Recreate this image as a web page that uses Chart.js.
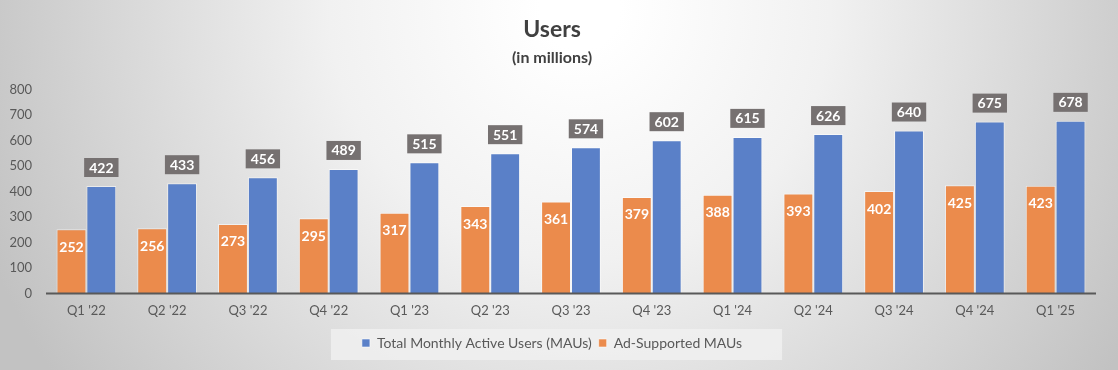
<!DOCTYPE html>
<html>
<head>
<meta charset="utf-8">
<script src="https://cdn.jsdelivr.net/npm/chart.js@4"></script>
<style>
  html, body { margin: 0; padding: 0; background: #fff; }
  #wrap { width: 1118px; height: 370px; position: relative; }
</style>
</head>
<body>
<div id="wrap"><canvas id="chart"></canvas></div>
<script>
const quarters = ["Q1 '22", "Q2 '22", "Q3 '22", "Q4 '22", "Q1 '23", "Q2 '23", "Q3 '23", "Q4 '23", "Q1 '24", "Q2 '24", "Q3 '24", "Q4 '24", "Q1 '25"]
const totalMAUs = [422, 433, 456, 489, 515, 551, 574, 602, 615, 626, 640, 675, 678]
const adSupportedMAUs = [252, 256, 273, 295, 317, 343, 361, 379, 388, 393, 402, 425, 423]
const yTicks = [0, 100, 200, 300, 400, 500, 600, 700, 800]

const FONT = "Lato, 'Open Sans', sans-serif"

// gray-to-white backdrop, like the spreadsheet chart area
const backdrop = {
  id: 'backdrop',
  beforeDraw(chart) {
    const { ctx, width, height } = chart
    ctx.save()
    const g = ctx.createRadialGradient(580, 10, 40, 580, 10, 640)
    g.addColorStop(0, '#ffffff')
    g.addColorStop(0.35, '#f1f1f1')
    g.addColorStop(1, '#c2c2c2')
    ctx.fillStyle = g
    ctx.fillRect(0, 0, width, height)

    // legend panel
    const lg = chart.legend
    if (lg && lg.legendHitBoxes && lg.legendHitBoxes.length) {
      const boxes = lg.legendHitBoxes
      const left = Math.min(...boxes.map(b => b.left)) - 31
      const right = Math.max(...boxes.map(b => b.left + b.width)) + 40
      ctx.fillStyle = 'rgba(240,240,240,0.85)'
      ctx.fillRect(left, lg.top, right - left, lg.height)
    }
    ctx.restore()
  }
}

// value labels: inside orange bars, boxed above blue bars; plus the base line
const valueLabels = {
  id: 'valueLabels',
  afterDatasetsDraw(chart) {
    const { ctx, chartArea } = chart
    ctx.save()
    ctx.strokeStyle = '#595959'
    ctx.lineWidth = 2
    ctx.beginPath()
    ctx.moveTo(chartArea.left, chartArea.bottom)
    ctx.lineTo(chartArea.right, chartArea.bottom)
    ctx.stroke()

    ctx.font = "bold 14px " + FONT
    ctx.textAlign = 'center'
    ctx.textBaseline = 'middle'
    chart.data.datasets.forEach((ds, di) => {
      const meta = chart.getDatasetMeta(di)
      meta.data.forEach((bar, i) => {
        const txt = String(ds.data[i])
        if (ds.labelStyle === 'inside') {
          ctx.fillStyle = '#ffffff'
          ctx.fillText(txt, bar.x, bar.y + 18)
        } else {
          const w = ctx.measureText(txt).width + 10
          const h = 19
          const bottom = bar.y - 9
          ctx.fillStyle = '#767171'
          ctx.fillRect(bar.x - w / 2, bottom - h, w, h)
          ctx.fillStyle = '#ffffff'
          ctx.fillText(txt, bar.x, bottom - h / 2 + 0.5)
        }
      })
    })
    ctx.restore()
  }
}

new Chart(document.getElementById('chart'), {
  type: 'bar',
  data: {
    labels: quarters,
    datasets: [
      {
        label: 'Ad-Supported MAUs',
        data: adSupportedMAUs,
        backgroundColor: '#eb8b4c',
        borderColor: 'rgba(255,255,255,0.55)',
        borderWidth: 1,
        labelStyle: 'inside'
      },
      {
        label: 'Total Monthly Active Users (MAUs)',
        data: totalMAUs,
        backgroundColor: '#5a80c8',
        borderColor: 'rgba(255,255,255,0.55)',
        borderWidth: 1,
        labelStyle: 'box'
      }
    ]
  },
  options: {
    responsive: true,
    maintainAspectRatio: false,
    animation: false,
    layout: { padding: { left: 8, right: 22, top: 16, bottom: 10 } },
    datasets: {
      bar: { barPercentage: 1.0, categoryPercentage: 0.74 }
    },
    plugins: {
      title: {
        display: true,
        text: 'Users',
        color: '#404040',
        font: { family: FONT, size: 23, weight: 'bold' },
        padding: { top: 0, bottom: 5 }
      },
      subtitle: {
        display: true,
        text: '(in millions)',
        color: '#404040',
        font: { family: FONT, size: 16, weight: 'bold' },
        padding: { top: 0, bottom: 22 }
      },
      legend: {
        position: 'bottom',
        reverse: true,
        labels: {
          color: '#595959',
          font: { family: FONT, size: 14 },
          boxWidth: 8,
          boxHeight: 8,
          padding: 7
        }
      },
      tooltip: { enabled: false }
    },
    scales: {
      x: {
        grid: { display: false, drawTicks: false },
        border: { display: false },
        ticks: { color: '#595959', font: { family: FONT, size: 13 }, padding: 10 }
      },
      y: {
        min: 0,
        max: 800,
        afterBuildTicks(scale) {
          scale.ticks = yTicks.map(v => ({ value: v }))
        },
        afterFit(scale) {
          scale.width = 38
        },
        grid: { display: false, drawTicks: false },
        border: { display: false },
        ticks: { color: '#595959', font: { family: FONT, size: 13 }, padding: 14 }
      }
    }
  },
  plugins: [backdrop, valueLabels]
})
</script>
</body>
</html>
